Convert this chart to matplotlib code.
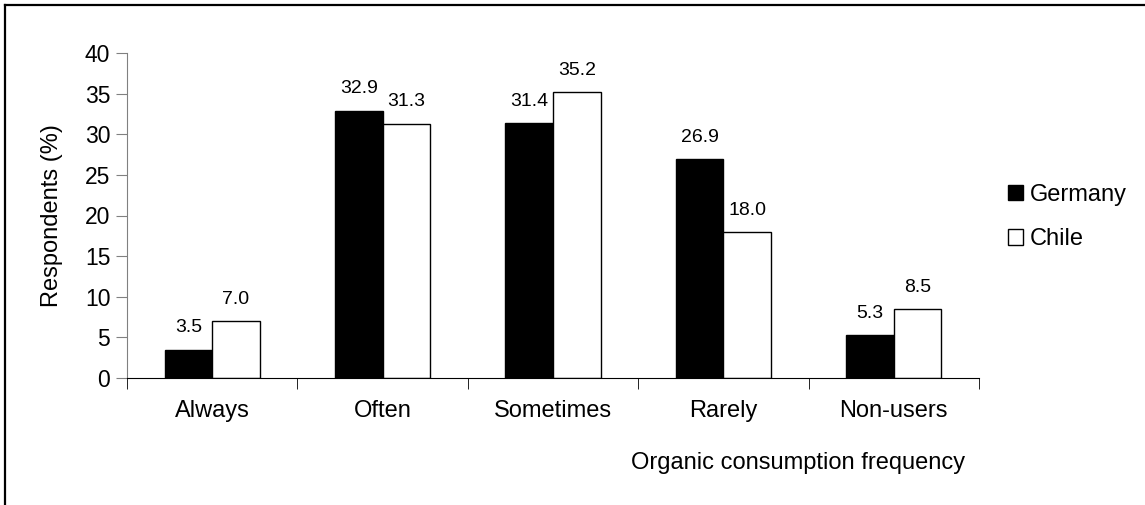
import numpy as np
import matplotlib.pyplot as plt
from matplotlib.lines import Line2D

plt.rcParams['font.family'] = ['Liberation Sans', 'DejaVu Sans']

categories = ['Always', 'Often', 'Sometimes', 'Rarely', 'Non-users']
germany = [3.5, 32.9, 31.4, 26.9, 5.3]
chile = [7.0, 31.3, 35.2, 18.0, 8.5]

W, H = 1145, 505
fig = plt.figure(figsize=(W / 100, H / 100), dpi=100)
ax = fig.add_axes([127 / W, 1 - 378 / H, (979 - 127) / W, (378 - 53) / H])

x = np.arange(len(categories))
bw = 0.279
ax.bar(x - bw / 2, germany, bw, color='black', edgecolor='black', linewidth=1, label='Germany')
ax.bar(x + bw / 2, chile, bw, color='white', edgecolor='black', linewidth=1, label='Chile')

for i in range(len(categories)):
    ax.annotate(f'{germany[i]:.1f}', (x[i] - bw / 2, germany[i]), xytext=(0, 9.5),
                textcoords='offset points', ha='center', va='bottom', fontsize=14)
    ax.annotate(f'{chile[i]:.1f}', (x[i] + bw / 2, chile[i]), xytext=(0, 9.5),
                textcoords='offset points', ha='center', va='bottom', fontsize=14)

ax.set_xlim(-0.5, len(categories) - 0.5)
ax.set_ylim(0, 40)
ax.set_yticks(range(0, 41, 5))
ax.set_xticks(x)
ax.set_xticklabels(categories, fontsize=17)
ax.set_xticks(np.arange(-0.5, len(categories)), minor=True)
ax.tick_params(axis='x', which='major', length=0, pad=16)
ax.tick_params(axis='x', which='minor', length=8, direction='out', color='black')
ax.tick_params(axis='y', length=8, direction='out', color='#808080', labelsize=16.5, pad=4)

for s in ['top', 'right']:
    ax.spines[s].set_visible(False)
ax.spines['left'].set_color('#808080')
ax.spines['bottom'].set_color('black')

ax.set_ylabel('Respondents (%)', fontsize=17, labelpad=16)
fig.text(798 / W, 1 - 463 / H, 'Organic consumption frequency', ha='center', va='center', fontsize=17)

fig.legend(loc='center left', bbox_to_anchor=(996 / W, 1 - 217 / H), frameon=False,
           fontsize=17, handlelength=0.65, handleheight=0.65, handletextpad=0.3,
           labelspacing=0.95, borderpad=0)

fig.add_artist(Line2D([5 / W, 5 / W], [0, 1 - 5 / H], color='black', linewidth=1.6, transform=fig.transFigure))
fig.add_artist(Line2D([5 / W, 1], [1 - 5 / H, 1 - 5 / H], color='black', linewidth=1.6, transform=fig.transFigure))

fig.savefig('out.png', dpi=100)
